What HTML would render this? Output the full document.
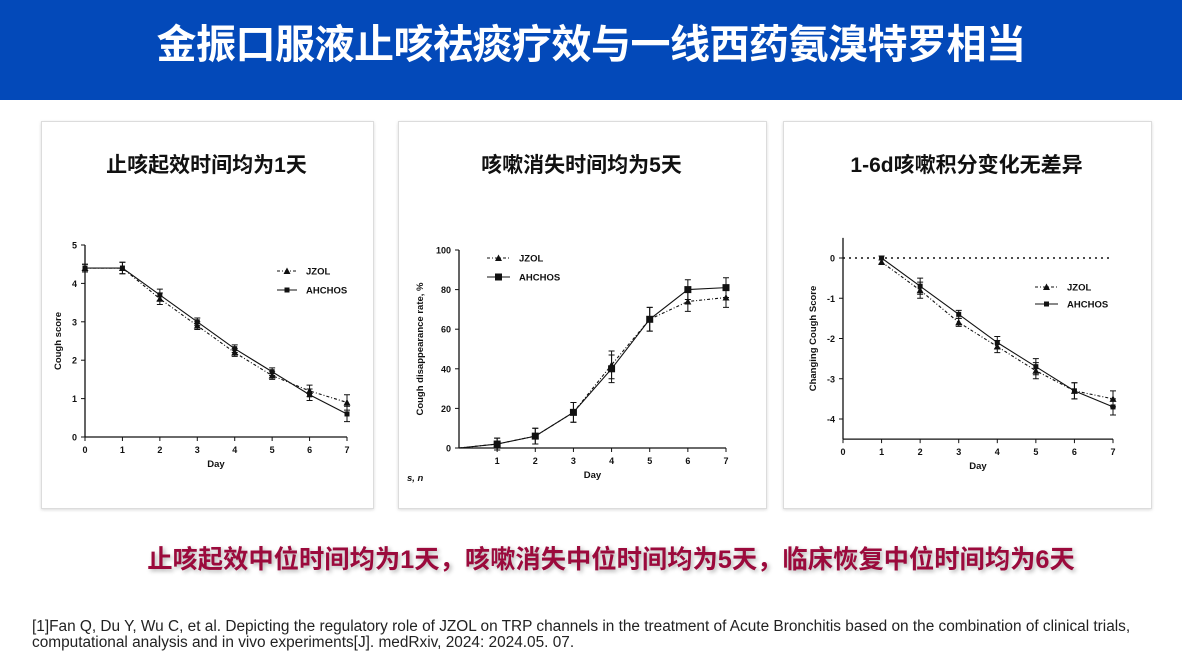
<!DOCTYPE html>
<html><head><meta charset="utf-8"><style>
body{margin:0;width:1182px;height:661px;background:#fff;position:relative;overflow:hidden;font-family:"Liberation Sans","Noto Sans CJK SC",sans-serif}
.hdr{position:absolute;left:0;top:0;width:1182px;height:100px;background:#0349b9}
.hdr h1{margin:0;position:absolute;left:0;width:1182px;top:20px;text-align:center;color:#fff;font-size:40px;font-weight:bold;line-height:50px;letter-spacing:-0.5px}
.panel{position:absolute;top:121px;height:386px;border:1px solid #dcdcdc;box-shadow:0 1px 3px rgba(0,0,0,.15);background:#fff}
.ptitle{position:absolute;top:151px;text-align:center;font-size:21px;font-weight:bold;color:#111;line-height:30px}
.note{position:absolute;left:20px;width:1182px;top:540px;text-align:center;color:#9b0a3c;font-size:25.3px;font-weight:bold;text-shadow:2px 2px 4px rgba(0,0,0,.3);white-space:nowrap}
.ref{position:absolute;left:32px;top:619px;font-size:15.4px;color:#222;line-height:16px;white-space:nowrap}
svg{position:absolute;left:0;top:0}
svg text{font-family:"Liberation Sans",sans-serif;font-weight:bold;fill:#111}
</style></head><body>
<div class="hdr"><h1>金振口服液止咳祛痰疗效与一线西药氨溴特罗相当</h1></div>
<div class="panel" style="left:41px;width:331px"></div>
<div class="panel" style="left:398px;width:367px"></div>
<div class="panel" style="left:783px;width:367px"></div>
<div class="ptitle" style="left:41px;width:331px">止咳起效时间均为1天</div>
<div class="ptitle" style="left:398px;width:367px">咳嗽消失时间均为5天</div>
<div class="ptitle" style="left:783px;width:367px">1-6d咳嗽积分变化无差异</div>
<div class="note">止咳起效中位时间均为1天，咳嗽消失中位时间均为5天，临床恢复中位时间均为6天</div>
<div class="ref">[1]Fan Q, Du Y, Wu C, et al. Depicting the regulatory role of JZOL on TRP channels in the treatment of Acute Bronchitis based on the combination of clinical trials,<br>computational analysis and in vivo experiments[J]. medRxiv, 2024: 2024.05. 07.</div>
<svg id="sv" width="1182" height="661"></svg>
<script>
// Chart 1: cough score
const c1Days=[0,1,2,3,4,5,6,7];
const c1Jzol=[4.4,4.4,3.6,2.9,2.2,1.6,1.2,0.9];
const c1Ahchos=[4.4,4.4,3.7,3.0,2.3,1.7,1.1,0.6];
const c1Err=[0.1,0.15,0.15,0.1,0.1,0.1,0.15,0.2];
const c1YTicks=[0,1,2,3,4,5];
const c1XTicks=[0,1,2,3,4,5,6,7];
// Chart 2: disappearance rate
const c2Days=[0,1,2,3,4,5,6,7];
const c2Jzol=[0,2,6,18,42,65,74,76];
const c2Ahchos=[0,2,6,18,40,65,80,81];
const c2Err=[0,3,4,5,7,6,5,5];
const c2YTicks=[0,20,40,60,80,100];
const c2XTicks=[1,2,3,4,5,6,7];
// Chart 3: changing cough score
const c3Days=[1,2,3,4,5,6,7];
const c3Jzol=[-0.1,-0.8,-1.6,-2.2,-2.8,-3.3,-3.5];
const c3Ahchos=[0,-0.7,-1.4,-2.1,-2.7,-3.3,-3.7];
const c3Err=[0.05,0.2,0.1,0.15,0.2,0.2,0.2];
const c3YTicks=[0,-1,-2,-3,-4];
const c3XTicks=[0,1,2,3,4,5,6,7];

const NS='http://www.w3.org/2000/svg';
const sv=document.getElementById('sv');
function mk(tag,attrs,parent){const e=document.createElementNS(NS,tag);for(const k in attrs)e.setAttribute(k,attrs[k]);(parent||sv).appendChild(e);return e;}

function chart(o){
  const g=mk('g',{});
  
  
  const X=v=>o.x0+(v-o.xmin)*(o.x1-o.x0)/(o.xmax-o.xmin);
  const Y=v=>o.y0+(v-o.ymin)*(o.y1-o.y0)/(o.ymax-o.ymin);
  const base=Y(o.axisAt!==undefined?o.axisAt:o.ymin);
  const top=Y(o.axisTop!==undefined?o.axisTop:o.ymax);
  const ya=mk('line',{x1:o.x0,x2:o.x0,y1:base,y2:top,stroke:'#111','stroke-width':1.3},g);
  
  
  const xa=mk('line',{x1:o.x0,x2:o.x1,y1:base,y2:base,stroke:'#111','stroke-width':1.3},g);
  
  
  o.yt.forEach(t=>{
    mk('line',{x1:o.x0-4,x2:o.x0,y1:Y(t),y2:Y(t),stroke:'#111'},g);
    const tx=mk('text',{x:o.x0-8,y:Y(t)+3.5,'font-size':9,'text-anchor':'end'},g);tx.textContent=t;
    
    
  });
  o.xt.forEach(t=>{
    mk('line',{x1:X(t),x2:X(t),y1:base,y2:base+4,stroke:'#111'},g);
    const tx=mk('text',{x:X(t),y:base+16,'font-size':9,'text-anchor':'middle'},g);tx.textContent=t;
    
    
  });
  const xl=mk('text',{x:(o.x0+o.x1)/2,y:base+30,'font-size':9.5,'text-anchor':'middle'},g);xl.textContent='Day';
  
  
  const yc=(base+top)/2;
  const yl=mk('text',{x:o.ylx,y:yc,'font-size':9.5,'text-anchor':'middle',transform:`rotate(-90 ${o.ylx} ${yc})`},g);yl.textContent=o.ylabel;
  
  
  if(o.zero){const z=mk('line',{x1:o.x0,x2:o.x1,y1:Y(0),y2:Y(0),stroke:'#111','stroke-width':1.6,'stroke-dasharray':'2,4'},g);
    
    }
  const series=[[o.j,'3,2,1,2','tri','series-jzol'],[o.a,'','sq','series-ahchos']];
  series.forEach(([vals,dash,shape,nm])=>{
    const pts=vals.map((v,i)=>X(o.days[i])+','+Y(v)).join(' ');
    const pl=mk('polyline',{points:pts,fill:'none',stroke:'#111','stroke-width':1.1,'stroke-dasharray':dash},g);
    
    
    vals.forEach((v,i)=>{
      if(o.skipOrigin && o.days[i]===0) return;
      const cx=X(o.days[i]),cy=Y(v),e=o.err[i];
      if(e>0){
        const eb=mk('path',{d:`M${cx},${Y(v+e)}V${Y(v-e)}M${cx-3},${Y(v+e)}h6M${cx-3},${Y(v-e)}h6`,stroke:'#111','stroke-width':1,fill:'none'},g);
        
        
      }
      let m;
      if(shape==='tri')m=mk('path',{d:`M${cx},${cy-3.5}L${cx+3.5},${cy+3}L${cx-3.5},${cy+3}Z`,fill:'#111'},g);
      else {const s=o.sq;m=mk('rect',{x:cx-s/2,y:cy-s/2,width:s,height:s,fill:'#111'},g);}
      
      
    });
  });
  [[o.leg[1],'3,2,1,2','tri','JZOL'],[o.leg[1]+o.leg[3],'','sq','AHCHOS']].forEach(([ly,dash,shape,lab])=>{
    const lx=o.leg[0];
    mk('line',{x1:lx,x2:lx+o.leg[2],y1:ly,y2:ly,stroke:'#111','stroke-width':1.1,'stroke-dasharray':dash},g);
    const cx=lx+o.leg[2]/2;
    if(shape==='tri')mk('path',{d:`M${cx},${ly-3.5}L${cx+3.5},${ly+3}L${cx-3.5},${ly+3}Z`,fill:'#111'},g);
    else mk('rect',{x:cx-o.sq/2,y:ly-o.sq/2,width:o.sq,height:o.sq,fill:'#111'},g);
    const t=mk('text',{x:lx+o.leg[2]+9,y:ly+3.5,'font-size':9.5},g);t.textContent=lab;
    
    
  });
}
chart({name:'chart-cough-score',x0:85,x1:347,xmin:0,xmax:7,y0:437,y1:245,ymin:0,ymax:5,days:c1Days,j:c1Jzol,a:c1Ahchos,err:c1Err,yt:c1YTicks,xt:c1XTicks,ylabel:'Cough score',ylx:61,leg:[277,271,20,19],sq:5});
chart({name:'chart-disappearance-rate',x0:459,x1:726,xmin:0,xmax:7,y0:448,y1:250,ymin:0,ymax:100,days:c2Days,j:c2Jzol,a:c2Ahchos,err:c2Err,yt:c2YTicks,xt:c2XTicks,ylabel:'Cough disappearance rate, %',ylx:423,leg:[487,258,23,19],sq:7,skipOrigin:true});
chart({name:'chart-changing-score',x0:843,x1:1113,xmin:0,xmax:7,y0:258,y1:419,ymin:0,ymax:-4,axisAt:-4.5,axisTop:0.5,days:c3Days,j:c3Jzol,a:c3Ahchos,err:c3Err,yt:c3YTicks,xt:c3XTicks,ylabel:'Changing Cough Score',ylx:816,leg:[1035,287,23,17],sq:5,zero:true});
const sn=mk('text',{x:407,y:481,'font-size':9.5,'font-style':'italic'});sn.textContent='s, n';


</script>
</body></html>
